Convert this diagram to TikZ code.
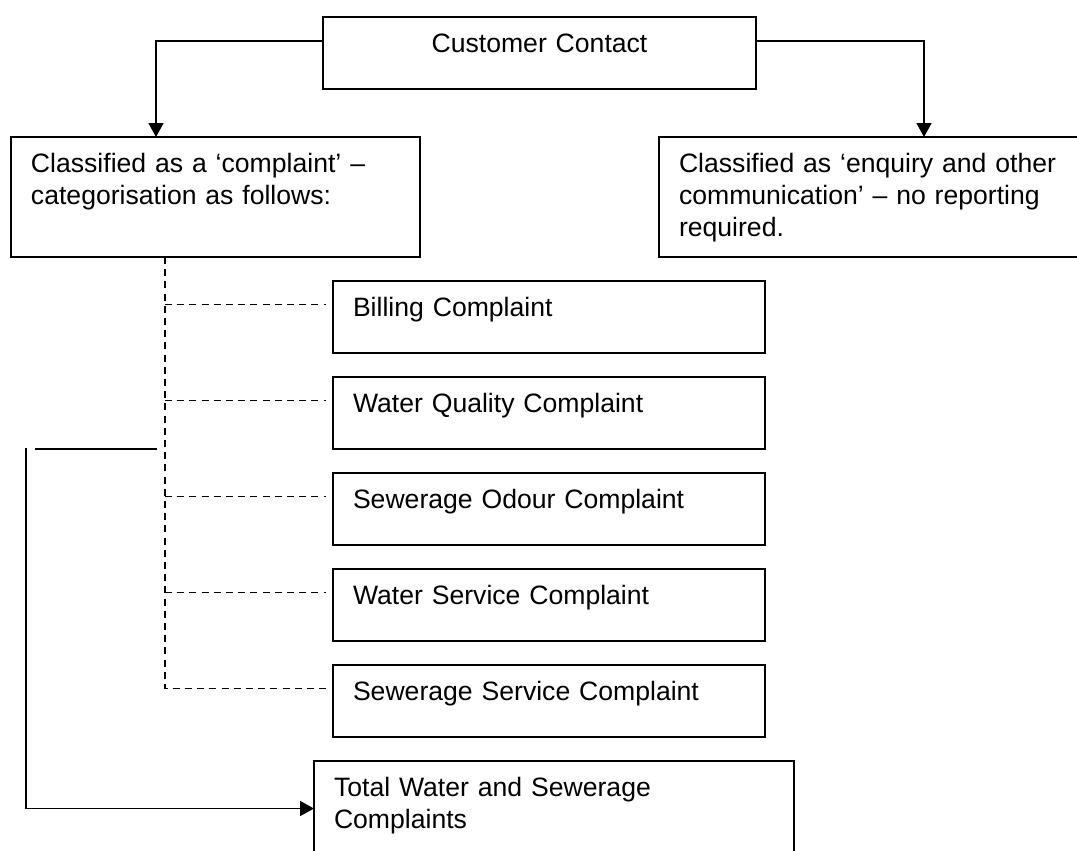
\documentclass[tikz,border=0pt]{standalone}
\usepackage{fontspec}
\setmainfont{Liberation Sans}
\usetikzlibrary{arrows.meta,positioning}

\begin{document}
\begin{tikzpicture}[x=0.5pt, y=-0.5pt, line width=0.75pt, >={Triangle[length=7pt,width=7.5pt]},
    font=\fontsize{13.3pt}{16pt}\selectfont]
      \tikzstyle{box} = [rectangle, draw, anchor=north west, inner xsep=10pt, inner ysep=0, outer sep=0, align=left, text height=17.75pt]
      \tikzstyle{cat} = [box, text width=196pt, text depth=18.25pt]
      \tikzstyle{branch} = [dash pattern=on 3.5pt off 2.6pt]

      \useasboundingbox (0,0) rectangle (1077,851);

      \node[box, align=center, text width=196.5pt, text depth=18.25pt] (cc)  at (323,17)  {Customer Contact};
      \node[box, text width=184.5pt, text depth=42.25pt]               (cmp) at (11,137)  {Classified as a ‘complaint’ –\\categorisation as follows:};
      \node[box, text width=200pt, text depth=42.25pt]                 (enq) at (659,137) {Classified as ‘enquiry and other\\communication’ – no reporting\\required.};

      \node[cat]                    (bill) at (333,281) {Billing Complaint};
      \node[cat, below=12pt of bill] (wq)  {Water Quality Complaint};
      \node[cat, below=12pt of wq]   (so)  {Sewerage Odour Complaint};
      \node[cat, below=12pt of so]   (ws)  {Water Service Complaint};
      \node[cat, below=12pt of ws]   (ss)  {Sewerage Service Complaint};

      \node[box, text width=220pt, text depth=29.75pt] (tot) at (314,761) {Total Water and Sewerage\\Complaints};

      % classification
      \draw[->] ([yshift=6pt]cc.west) -| ([xshift=-29.75pt]cmp.north);
      \draw[->] ([yshift=6pt]cc.east) -| ([xshift=22.5pt]enq.north);

      % categories
      \coordinate (trunk) at (165,0);
      \draw[branch] (cmp.south -| trunk) -- ([yshift=6.25pt]ss.west -| trunk) -- ([xshift=-3.5pt, yshift=6.25pt]ss.west);
      \foreach \c in {bill, wq, so, ws}
        \draw[branch] ([yshift=6.25pt]\c.west -| trunk) -- ([xshift=-3.5pt, yshift=6.25pt]\c.west);

      % total
      \coordinate (sa) at (35,449);
      \coordinate (sb) at (157,449);
      \coordinate (sc) at (26,448);
      \draw (sa) -- (sb);
      \draw[->] (sc) |- (tot.west);
    \end{tikzpicture}
\end{document}
